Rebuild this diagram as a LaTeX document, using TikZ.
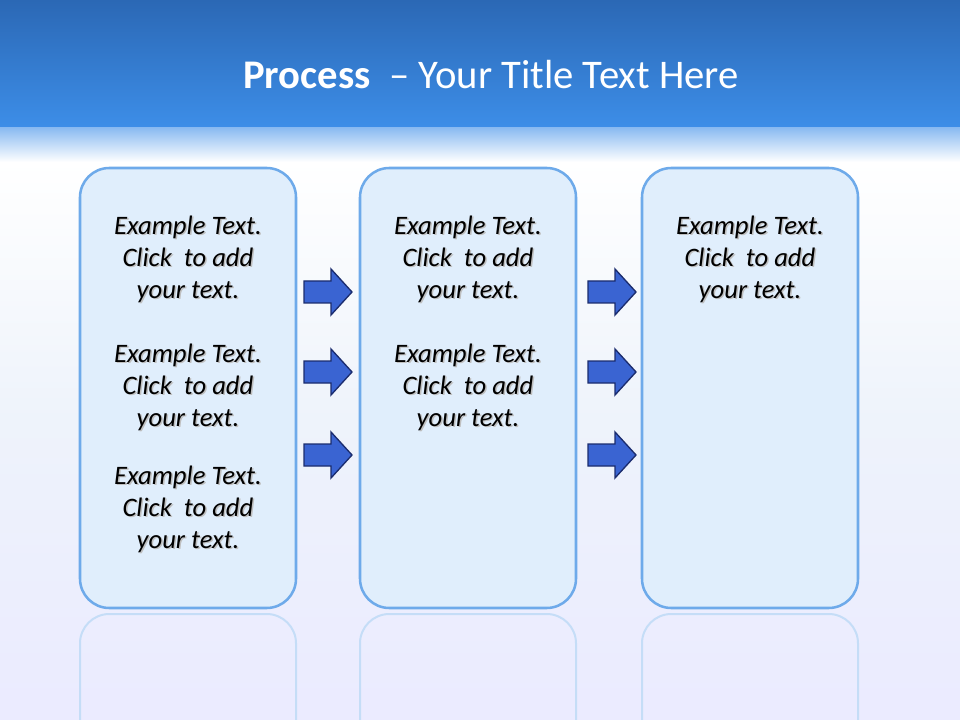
\documentclass[tikz,border=0pt]{standalone}
\usepackage{fontspec}
\setmainfont{Carlito}
\definecolor{hdrtop}{HTML}{2B68B5}
\definecolor{hdrbot}{HTML}{3D8EE8}
\definecolor{boxfill}{HTML}{E0EEFC}
\definecolor{boxline}{HTML}{6EAAEA}
\definecolor{arrfill}{HTML}{3A64D2}
\definecolor{arrline}{HTML}{1B2C6E}
\definecolor{bg}{HTML}{EEF3FB}
\tikzset{
 px/.style={x=0.75pt,y=-0.75pt},
 panel/.style={draw=boxline,line width=1.9pt,fill=boxfill,rounded corners=22pt},
 ghost/.style={draw=boxline!40,line width=1.5pt,rounded corners=22pt},
 txt/.style={font=\fontsize{20}{24}\selectfont\itshape,align=center,text=black},
 tsh/.style={font=\fontsize{20}{24}\selectfont\itshape,align=center,text=gray!50},
 barrow/.style={fill=arrfill,draw=arrline,line width=1pt,line join=miter}
}
\newcommand{\blockarrow}[2]{%
 \draw[barrow] (#1,#2-11) -- (#1+27,#2-11) -- (#1+27,#2-23) -- (#1+48,#2) -- (#1+27,#2+23) -- (#1+27,#2+11) -- (#1,#2+11) -- cycle;}
\newcommand{\ptext}[3]{%
 \node[tsh] at (#1+1.5,#2+1.5) {Example Text.\\Click\ \ to add\\your text.};
 \node[txt] (#3) at (#1,#2) {Example Text.\\Click\ \ to add\\your text.};}
\begin{document}
\begin{tikzpicture}[px]
\useasboundingbox (0,0) rectangle (960,720);
\shade[top color=white,bottom color=bg] (0,160) rectangle (960,420);
\shade[top color=bg,bottom color=blue!8!white] (0,420) rectangle (960,720);
\shade[top color=hdrtop,bottom color=hdrbot] (0,0) rectangle (960,128);
\shade[top color=hdrbot!60!white,bottom color=white] (0,128) rectangle (960,162);
\node[text=white,font=\fontsize{30.5}{34}\selectfont] (title) at (491,75) {\textbf{Process}\ \ – Your Title Text Here};
% reflections
\foreach \x in {80,360,642} {\draw[ghost] (\x,720) -- (\x,614) -- (\x+216,614) -- (\x+216,720);}
\draw[panel] (80,168) rectangle (296,608) node[midway] (b1) {};
\draw[panel] (360,168) rectangle (576,608) node[midway] (b2) {};
\draw[panel] (642,168) rectangle (858,608) node[midway] (b3) {};
\ptext{188}{259}{t11}
\ptext{188}{387}{t12}
\ptext{188}{509}{t13}
\ptext{468}{259}{t21}
\ptext{468}{387}{t22}
\ptext{750}{259}{t31}
\blockarrow{304}{292}
\blockarrow{304}{372}
\blockarrow{304}{455}
\blockarrow{588}{292}
\blockarrow{588}{372}
\blockarrow{588}{455}
\end{tikzpicture}
\end{document}
